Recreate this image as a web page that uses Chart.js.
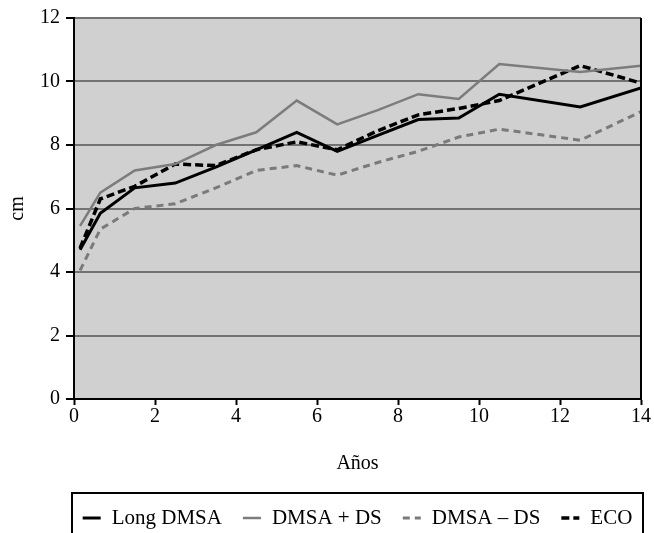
<!DOCTYPE html>
<html lang="es">
<head>
<meta charset="UTF-8">
<title>Longitud renal por edad</title>
<script src="https://cdn.jsdelivr.net/npm/chart.js"></script>
<style>
  html, body { margin: 0; padding: 0; background: #fff; }
</style>
</head>
<body>
<canvas id="myChart" width="654" height="533"></canvas>
<script>
// edades (años) y longitudes (cm)
const ages = [0.15, 0.65, 1.5, 2.5, 3.5, 4.5, 5.5, 6.5, 7.5, 8.5, 9.5, 10.5, 12.5, 14];
const longDmsa = [4.7, 5.85, 6.65, 6.8, 7.3, 7.85, 8.4, 7.8, 8.3, 8.8, 8.85, 9.6, 9.2, 9.8];
const dmsaConDs = [5.45, 6.5, 7.2, 7.4, 8.0, 8.4, 9.4, 8.65, 9.1, 9.6, 9.45, 10.55, 10.3, 10.5];
const dmsaSinDs = [4.05, 5.35, 6.0, 6.15, 6.65, 7.2, 7.35, 7.05, 7.45, 7.8, 8.25, 8.5, 8.15, 9.05];
const eco = [4.75, 6.3, 6.7, 7.4, 7.35, 7.85, 8.1, 7.85, 8.45, 8.95, 9.15, 9.4, 10.5, 9.95];
const seriesNames = ['Long DMSA', 'DMSA + DS', 'DMSA – DS', 'ECO'];
const xTitle = 'Años';
const yTitle = 'cm';

const serif = '"Liberation Serif", "Times New Roman", serif';
const pts = vals => vals.map((v, i) => ({ x: ages[i], y: v }));

// fondo gris, borde derecho y leyenda con recuadro
const extras = {
    id: 'extras',
    beforeDraw(chart) {
        const { ctx, chartArea: a } = chart;
        ctx.save();
        ctx.fillStyle = '#d0d0d0';
        ctx.fillRect(a.left, a.top, a.right - a.left, a.bottom - a.top);
        ctx.restore();
    },
    afterDraw(chart) {
        const { ctx, chartArea: a } = chart;
        ctx.save();
        ctx.strokeStyle = '#000';
        ctx.lineWidth = 2;
        ctx.beginPath();
        ctx.moveTo(a.right, a.top);
        ctx.lineTo(a.right, a.bottom);
        ctx.stroke();

        // leyenda
        const boxL = a.left - 2, boxR = a.right + 2, boxT = 493;
        ctx.lineWidth = 2;
        ctx.strokeRect(boxL, boxT, boxR - boxL, 60);
        ctx.font = '21px ' + serif;
        ctx.textBaseline = 'middle';
        const lineLen = 18, gapIn = 11, gapOut = 21;
        const items = chart.data.datasets.map(ds => ({
            label: ds.label, color: ds.borderColor, width: ds.borderWidth,
            dash: ds.borderDash || [], w: ctx.measureText(ds.label).width
        }));
        let total = items.reduce((s, it) => s + lineLen + gapIn + it.w, 0) + gapOut * (items.length - 1);
        let x = (boxL + boxR) / 2 - total / 2;
        const y = 518;
        items.forEach(it => {
            ctx.strokeStyle = it.color;
            ctx.lineWidth = it.width;
            ctx.setLineDash(it.dash);
            ctx.beginPath();
            ctx.moveTo(x, y);
            ctx.lineTo(x + lineLen, y);
            ctx.stroke();
            ctx.setLineDash([]);
            ctx.fillStyle = '#000';
            ctx.fillText(it.label, x + lineLen + gapIn, y);
            x += lineLen + gapIn + it.w + gapOut;
        });
        ctx.restore();
    }
};

const ctx = document.getElementById('myChart').getContext('2d');
const myChart = new Chart(ctx, {
    type: 'line',
    data: {
        datasets: [
            { label: seriesNames[0], data: pts(longDmsa), borderColor: '#000', borderWidth: 3 },
            { label: seriesNames[1], data: pts(dmsaConDs), borderColor: '#7c7c7c', borderWidth: 2.5 },
            { label: seriesNames[2], data: pts(dmsaSinDs), borderColor: '#7a7a7a', borderWidth: 3, borderDash: [7, 5] },
            { label: seriesNames[3], data: pts(eco), borderColor: '#000', borderWidth: 3.5, borderDash: [8, 4] }
        ]
    },
    options: {
        responsive: false,
        animation: false,
        devicePixelRatio: 1,
        elements: {
            point: { radius: 0 },
            line: { tension: 0, fill: false, borderJoinStyle: 'miter' }
        },
        layout: { padding: { top: 17, left: 0, right: 13, bottom: 54 } },
        plugins: {
            legend: { display: false },
            tooltip: { enabled: false }
        },
        scales: {
            x: {
                type: 'linear',
                min: 0,
                max: 14,
                ticks: { stepSize: 2, color: '#000', padding: 0, font: { family: serif, size: 20 } },
                grid: { drawOnChartArea: false, drawTicks: true, tickLength: 6, tickColor: '#000', tickWidth: 2 },
                border: { color: '#000', width: 2 },
                title: { display: true, text: xTitle, color: '#000', font: { family: serif, size: 20 }, padding: { bottom: 3 } },
                afterFit: s => { s.height = 80; }
            },
            y: {
                min: 0,
                max: 12,
                ticks: { stepSize: 2, color: '#000', padding: 6, font: { family: serif, size: 20 } },
                grid: { color: '#727272', lineWidth: 2, tickLength: 8, tickColor: '#000', tickWidth: 2 },
                border: { color: '#000', width: 2 },
                title: { display: true, text: yTitle, color: '#000', font: { family: serif, size: 20 }, padding: { top: 6 } },
                afterFit: s => { s.width = 74; }
            }
        }
    },
    plugins: [extras]
});
</script>
</body>
</html>
